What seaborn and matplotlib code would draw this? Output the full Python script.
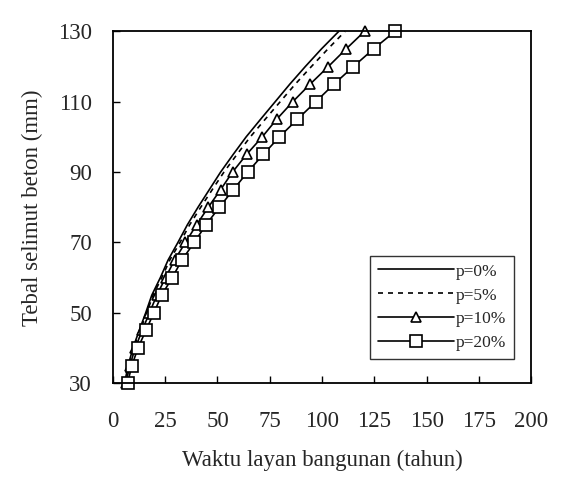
import numpy as np
import pandas as pd
import matplotlib
matplotlib.use("Agg")
import matplotlib.pyplot as plt
import seaborn as sns

# data
tebal = [30, 35, 40, 45, 50, 55, 60, 65, 70, 75, 80, 85, 90, 95, 100, 105, 110, 115, 120, 125, 130]
p0 = [5.6, 7.3, 9.6, 12.6, 15.7, 18.6, 22.7, 26.4, 31.1, 35.6, 40.7, 46.1, 51.5, 57.5, 63.7, 70.6, 77.6, 84.6, 92.0, 99.7, 108.0]
p5 = [5.8, 7.5, 9.9, 13.0, 16.2, 19.2, 23.4, 27.2, 32.1, 36.7, 42.0, 47.5, 53.1, 59.3, 65.7, 72.8, 80.0, 87.2, 94.9, 102.8, 111.0]
p10 = [6.2, 8.1, 10.7, 14.0, 17.5, 21.0, 25.2, 29.5, 34.7, 40.0, 45.6, 51.5, 57.2, 63.9, 71.4, 78.3, 86.0, 94.3, 103.0, 111.5, 120.3]
p20 = [7.0, 9.1, 12.0, 15.8, 19.6, 23.3, 28.4, 33.0, 38.9, 44.5, 50.9, 57.6, 64.4, 71.9, 79.6, 88.2, 97.0, 105.7, 115.0, 124.6, 134.9]
labels = ["p=0%", "p=5%", "p=10%", "p=20%"]

sns.set_style("ticks")
plt.rcParams['font.family'] = ['Liberation Serif', 'DejaVu Serif']
plt.rcParams['xtick.direction'] = 'in'
plt.rcParams['ytick.direction'] = 'in'

fig = plt.figure(figsize=(5.7, 4.9), dpi=100)
ax = fig.add_axes([0.198, 0.218, 0.734, 0.718])

styles = [
    dict(linestyle='-', marker=None),
    dict(linestyle=(0, (3, 3)), marker=None),
    dict(linestyle='-', marker='^', markersize=7),
    dict(linestyle='-', marker='s', markersize=8),
]
for vals, lab, st in zip([p0, p5, p10, p20], labels, styles):
    df = pd.DataFrame({"waktu": vals, "tebal": tebal})
    sns.lineplot(data=df, x="waktu", y="tebal", sort=False, color="black",
                 linewidth=1.2, markerfacecolor="white", markeredgecolor="black",
                 markeredgewidth=1.2, label=lab, ax=ax, clip_on=False, **st)

ax.set_xlim(0, 200)
ax.set_ylim(30, 130)
ax.set_xticks(np.arange(0, 201, 25))
ax.set_yticks(np.arange(30, 131, 20))
ax.tick_params(labelsize=16.5, length=5, width=1, color="black")
ax.tick_params(axis='x', pad=20)
ax.tick_params(axis='y', pad=15)
for s in ax.spines.values():
    s.set_linewidth(1.3)
    s.set_color("black")

ax.set_xlabel("Waktu layan bangunan (tahun)", fontsize=16.5, labelpad=13)
ax.set_ylabel("Tebal selimut beton (mm)", fontsize=16.5, labelpad=11)

leg = ax.legend(loc="lower right", bbox_to_anchor=(0.959, 0.068), borderaxespad=0,
                fontsize=12.5, frameon=True, fancybox=False, edgecolor="black",
                handlelength=4.4, handletextpad=0.1, borderpad=0.45,
                labelspacing=0.45, markerfirst=True)
leg.get_frame().set_linewidth(1.0)

fig.savefig("out.png", dpi=100)
